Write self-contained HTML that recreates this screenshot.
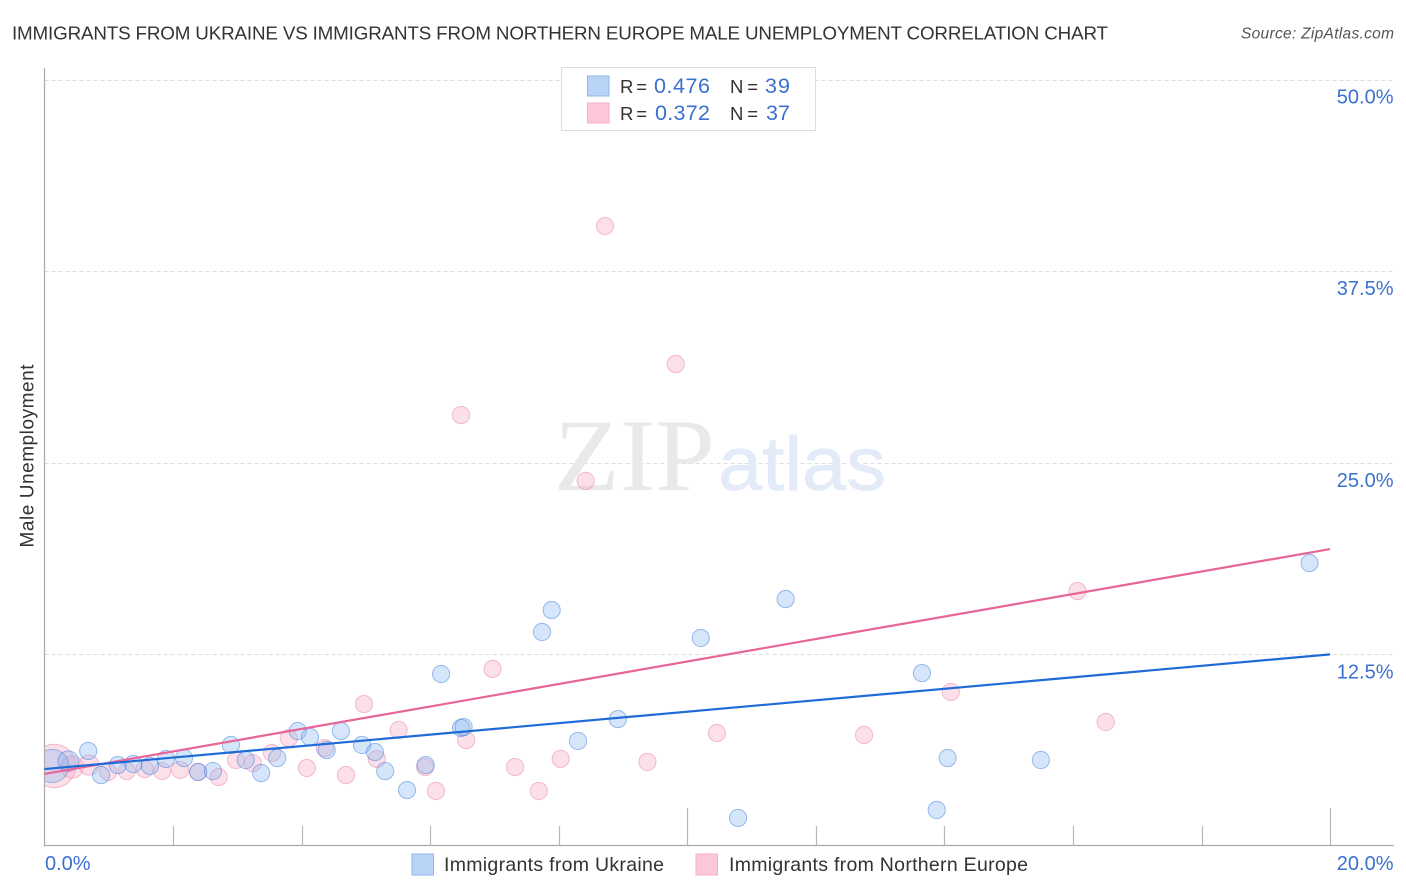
<!DOCTYPE html>
<html lang="en">
<head>
<meta charset="utf-8">
<title>Immigrants from Ukraine vs Immigrants from Northern Europe Male Unemployment Correlation Chart</title>
<style>
html,body{margin:0;padding:0;background:#fff;}
svg{display:block;font-family:"Liberation Sans",sans-serif;}
</style>
</head>
<body>
<svg id="chart" xmlns="http://www.w3.org/2000/svg" width="1406" height="892" viewBox="0 0 1406 892">
  <rect x="0" y="0" width="1406" height="892" fill="#ffffff"/>
  <text x="12" y="39.5" font-size="18.8" fill="#333333" textLength="1096" lengthAdjust="spacing">IMMIGRANTS FROM UKRAINE VS IMMIGRANTS FROM NORTHERN EUROPE MALE UNEMPLOYMENT CORRELATION CHART</text>
  <text x="1394" y="38.5" font-size="15.5" font-style="italic" fill="#555555" text-anchor="end" textLength="153" lengthAdjust="spacing">Source: ZipAtlas.com</text>
  <g id="grid"></g>
  <g>
    <text x="554" y="490" font-family="'Liberation Serif',serif" font-size="103" fill="#e9e9e9" textLength="161" lengthAdjust="spacingAndGlyphs">ZIP</text>
    <text x="718" y="490" font-size="76" fill="#e3ebf9" stroke="#e3ebf9" stroke-width="0.7" textLength="168" lengthAdjust="spacingAndGlyphs">atlas</text>
  </g>
  <g id="points"></g>
  <rect x="0" y="730" width="44.5" height="70" fill="#ffffff"/>
  <g id="axes"></g>
  <g id="trends"></g>
  <g id="labels"></g>
  <text transform="translate(33.5,456) rotate(-90)" font-size="19" fill="#333333" text-anchor="middle" textLength="183" lengthAdjust="spacing">Male Unemployment</text>

  <g>
    <rect x="561.5" y="67.5" width="254" height="63" fill="#ffffff" stroke="#dddddd" stroke-width="1"/>
    <rect x="587.5" y="76" width="21.5" height="20" fill="#b9d4f7" stroke="#8db6e9" stroke-width="1"/>
    <rect x="587.5" y="103" width="21.5" height="20" fill="#fcc8d9" stroke="#f4b0c7" stroke-width="1"/>
    <g font-size="18.5">
      <text x="620" y="93" fill="#333333" textLength="27" lengthAdjust="spacing">R =</text>
      <text x="654" y="93" fill="#3a70d0" font-size="21.5" textLength="56" lengthAdjust="spacing">0.476</text>
      <text x="730" y="93" fill="#333333" textLength="28" lengthAdjust="spacing">N =</text>
      <text x="765" y="93" fill="#3a70d0" font-size="21.5" textLength="25" lengthAdjust="spacing">39</text>
      <text x="620" y="120" fill="#333333" textLength="27" lengthAdjust="spacing">R =</text>
      <text x="655" y="120" fill="#3a70d0" font-size="21.5" textLength="55" lengthAdjust="spacing">0.372</text>
      <text x="730" y="120" fill="#333333" textLength="28" lengthAdjust="spacing">N =</text>
      <text x="766" y="120" fill="#3a70d0" font-size="21.5" textLength="24" lengthAdjust="spacing">37</text>
    </g>
  </g>

  <g>
    <rect x="412" y="854" width="21.5" height="21" fill="#b9d4f7" stroke="#8db6e9" stroke-width="1"/>
    <text x="444" y="871" font-size="19.5" fill="#333333" textLength="220" lengthAdjust="spacing">Immigrants from Ukraine</text>
    <rect x="696" y="854" width="21.5" height="21" fill="#fcc8d9" stroke="#f4b0c7" stroke-width="1"/>
    <text x="729" y="871" font-size="19.5" fill="#333333" textLength="299" lengthAdjust="spacing">Immigrants from Northern Europe</text>
  </g>
</svg>
<script>
// Chart data (x = immigrant share %, y = male unemployment %)
var xTickValues = [2, 4, 6, 8, 10, 12, 14, 16, 18, 20];
var xTallTickValues = [10, 20];
var xLabelValues = ["0.0%", "20.0%"];
var yTickValues = [12.5, 25, 37.5, 50];
var yTickLabels = ["12.5%", "25.0%", "37.5%", "50.0%"];

var ukraineX = [0.12,0.37,0.68,0.88,1.14,1.38,1.64,1.89,2.17,2.39,2.62,2.90,3.13,3.37,3.62,3.94,4.13,4.39,4.61,4.94,5.14,5.30,5.64,5.93,6.17,6.48,6.52,7.74,7.89,8.30,8.92,10.21,10.79,11.53,13.65,13.88,14.05,15.50,19.68];
var ukraineY = [5.22,5.54,6.20,4.63,5.28,5.35,5.22,5.68,5.74,4.83,4.89,6.59,5.61,4.76,5.74,7.50,7.11,6.26,7.50,6.59,6.13,4.89,3.65,5.28,11.22,7.70,7.76,13.96,15.39,6.85,8.28,13.57,1.83,16.11,11.28,2.35,5.74,5.61,18.46];
var ukraineWeight = [3.7,1.4,1,1,1,1,1,1,1,1,1,1,1,1,1,1,1,1,1,1,1,1,1,1,1,1,1,1,1,1,1,1,1,1,1,1,1,1,1];

var europeX = [0.15,0.43,0.69,0.99,1.28,1.56,1.83,2.11,2.39,2.71,2.98,3.24,3.54,3.80,4.08,4.36,4.69,4.97,5.17,5.51,5.92,6.09,6.56,6.48,6.97,7.32,7.69,8.03,8.42,8.72,9.38,9.82,10.46,12.75,14.10,16.07,16.51];
var europeY = [5.22,5.15,5.28,4.83,4.89,5.02,4.89,4.96,4.83,4.50,5.61,5.41,6.07,7.04,5.09,6.39,4.63,9.26,5.68,7.57,5.15,3.59,6.91,28.11,11.55,5.15,3.59,5.68,23.81,40.44,5.48,31.44,7.37,7.24,10.05,16.63,8.09];
var europeWeight = [6.4,1.7,1.4,1,1,1,1,1,1,1,1,1,1,1,1,1,1,1,1,1,1,1,1,1,1,1,1,1,1,1,1,1,1,1,1,1,1];

var trendX = [0, 20];
var ukraineTrendY = [5.02, 12.5];
var europeTrendY = [4.70, 19.37];

// Axis functions
function xScale(v) { return 44.5 + v * 64.28; }
function yScale(v) { return 846 - v * 15.33; }
function radius(w) { return 8.6 * Math.sqrt(w); }

var NS = 'http://www.w3.org/2000/svg';
function make(tag, attrs, parent) {
  var el = document.createElementNS(NS, tag);
  for (var k in attrs) { el.setAttribute(k, attrs[k]); }
  parent.appendChild(el);
  return el;
}

var grid = document.getElementById('grid');
var axes = document.getElementById('axes');
var points = document.getElementById('points');
var trends = document.getElementById('trends');
var labels = document.getElementById('labels');

yTickValues.forEach(function (v, i) {
  var y = Math.round(yScale(v)) + 0.5;
  var line = make('line', { x1: 44.5, x2: 1394, y1: y, y2: y, stroke: '#dedede', 'stroke-width': 1, 'stroke-dasharray': '4 3' }, grid);
  
  
  var t = make('text', { x: 1393.5, y: yScale(v) + 24, 'font-size': 20, fill: '#3a70d0', 'text-anchor': 'end' }, labels);
  t.textContent = yTickLabels[i];
  
  
});

var yAxis = make('line', { x1: 44.5, x2: 44.5, y1: 68, y2: 846.5, stroke: '#aaaaaa', 'stroke-width': 1.2 }, axes);


var xAxis = make('line', { x1: 44, x2: 1394, y1: 845.5, y2: 845.5, stroke: '#aaaaaa', 'stroke-width': 1.2 }, axes);



xTickValues.forEach(function (v) {
  var x = Math.round(xScale(v)) + 0.5;
  var tall = xTallTickValues.indexOf(v) >= 0;
  var tick = make('line', { x1: x, x2: x, y1: tall ? 808 : 826, y2: 846, stroke: '#b8b8b8', 'stroke-width': 1.2 }, axes);
  
  
});

var xLabelLeft = make('text', { x: 45, y: 870, 'font-size': 20, fill: '#3a70d0' }, labels);
xLabelLeft.textContent = xLabelValues[0];


var xLabelRight = make('text', { x: 1393.5, y: 870, 'font-size': 20, fill: '#3a70d0', 'text-anchor': 'end' }, labels);
xLabelRight.textContent = xLabelValues[1];



europeX.forEach(function (v, i) {
  var c = make('circle', { cx: xScale(v), cy: yScale(europeY[i]), r: radius(europeWeight[i]), fill: 'rgba(248,170,195,0.36)', stroke: 'rgba(232,130,165,0.5)', 'stroke-width': 1 }, points);
  
  
});
ukraineX.forEach(function (v, i) {
  var c = make('circle', { cx: xScale(v), cy: yScale(ukraineY[i]), r: radius(ukraineWeight[i]), fill: 'rgba(130,180,240,0.33)', stroke: 'rgba(60,125,220,0.5)', 'stroke-width': 1 }, points);
  
  
});

var europeTrend = make('line', { x1: xScale(trendX[0]), y1: yScale(europeTrendY[0]), x2: xScale(trendX[1]), y2: yScale(europeTrendY[1]), stroke: '#e8659a', 'stroke-width': 2.2 }, trends);


var ukraineTrend = make('line', { x1: xScale(trendX[0]), y1: yScale(ukraineTrendY[0]), x2: xScale(trendX[1]), y2: yScale(ukraineTrendY[1]), stroke: '#1f6cd8', 'stroke-width': 2.2 }, trends);


</script>
</body>
</html>
